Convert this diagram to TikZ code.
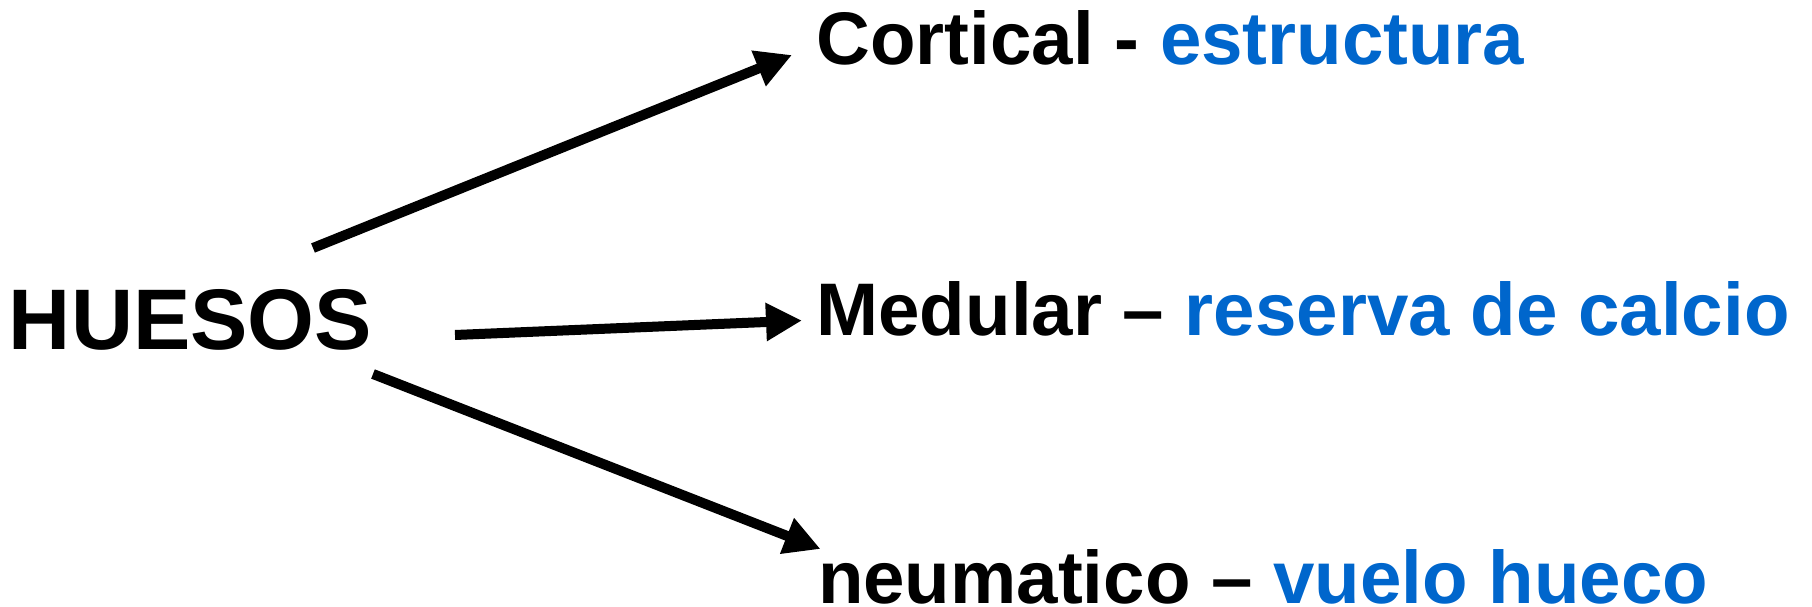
\documentclass[tikz,border=0pt]{standalone}
\usepackage{fontspec}
\setmainfont{Liberation Sans}
\usetikzlibrary{arrows.meta}
\definecolor{lblue}{RGB}{0,102,204}
\begin{document}
\begin{tikzpicture}[x=1pt,y=-1pt,
  lbl/.style={anchor=base west,inner sep=0pt,outer sep=0pt,font=\fontsize{74.5}{80}\selectfont\bfseries},
  big/.style={anchor=base west,inner sep=0pt,outer sep=0pt,font=\fontsize{86}{90}\selectfont\bfseries},
  arr/.style={line width=10pt,-{Triangle[length=36pt,width=36pt]}}]
\useasboundingbox (0,0) rectangle (1812,607);
\node[big] (huesos) at (9,349) {HUESOS};
\node[lbl] (cortical) at (816.5,65) {Cortical - \textcolor{lblue}{estructura}};
\node[lbl] (medular) at (816.5,335) {Medular – \textcolor{lblue}{reserva de calcio}};
\node[lbl] (neum) at (818,603.5) {neumatico – \textcolor{lblue}{vuelo hueco}};
\coordinate (s1) at (313,248);
\coordinate (t1) at (792,55);
\coordinate (s2) at (455,335);
\coordinate (t2) at (802,320.5);
\coordinate (s3) at (373,374);
\coordinate (t3) at (820.5,549);
\draw[arr] (s1) -- (t1);
\draw[arr] (s2) -- (t2);
\draw[arr] (s3) -- (t3);
\end{tikzpicture}
\end{document}
